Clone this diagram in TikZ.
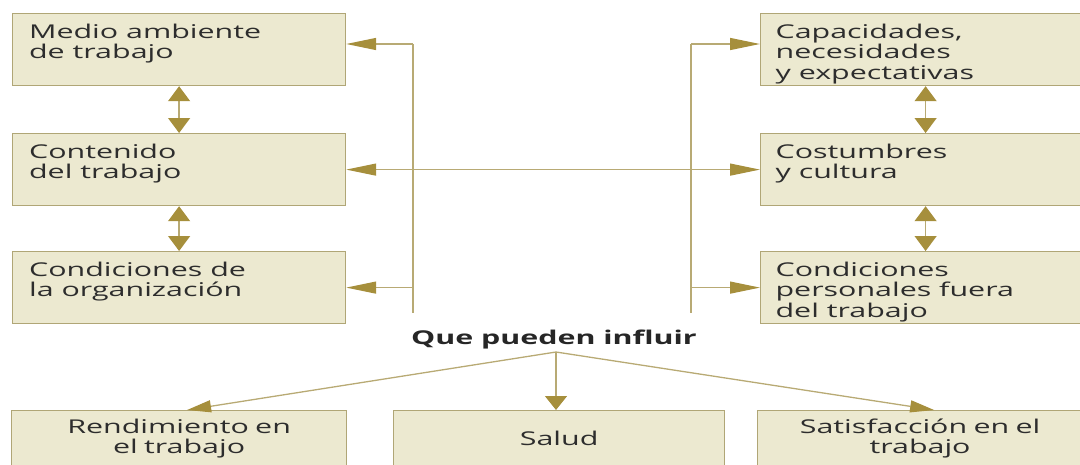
\documentclass[tikz,border=0pt]{standalone}
\usepackage{fontspec}
\setmainfont{Open Sans}[FakeStretch=1.6]
\usepackage{tikz}
\usetikzlibrary{arrows.meta, positioning, calc}
\definecolor{boxfill}{RGB}{236,233,208}
\definecolor{boxline}{RGB}{176,166,118}
\definecolor{arrowgold}{RGB}{166,143,60}
\definecolor{linegold}{RGB}{184,170,116}
\definecolor{textgrey}{RGB}{45,45,45}
\newcommand{\boxtext}[1]{\vbox to 52pt{\hsize=300pt\parindent=0pt\raggedright #1\par\vss}}

\begin{document}
\begin{tikzpicture}[x=1pt, y=-1pt, font=\fontsize{19}{20.5}\selectfont, text=textgrey,
  box/.style={draw=boxline, fill=boxfill, line width=1.2pt, anchor=north west,
    inner xsep=15pt, inner ysep=10pt, minimum height=72pt},
  outbox/.style={draw=boxline, fill=boxfill, line width=1.2pt, anchor=north west,
    inner xsep=15pt, align=center, minimum height=56pt},
  link/.style={draw=linegold, line width=1.3pt},
  hto/.style={link, -{Triangle[length=30pt, width=12pt, color=arrowgold]}},
  hboth/.style={link, {Triangle[length=30pt, width=12pt, color=arrowgold]}-{Triangle[length=30pt, width=12pt, color=arrowgold]}},
  vboth/.style={link, {Triangle[length=15pt, width=22pt, color=arrowgold]}-{Triangle[length=15pt, width=22pt, color=arrowgold]}},
  vto/.style={link, -{Triangle[length=14pt, width=22pt, color=arrowgold]}},
  dto/.style={link, -{Triangle[length=24pt, width=12pt, color=arrowgold]}}]
  \useasboundingbox (0,0) rectangle (1080,464);
  % Left column
  \node[box, minimum width=333pt] (ma) at (12,13) {\boxtext{Medio ambiente\\de trabajo}};
  \node[box, minimum width=333pt] (ct) at (12,133) {\boxtext{Contenido\\del trabajo}};
  \node[box, minimum width=333pt] (co) at (12,251) {\boxtext{Condiciones de\\la organización}};
  % Right column
  \node[box, minimum width=322pt] (cap) at (760,13) {\boxtext{Capacidades,\\necesidades\\y expectativas}};
  \node[box, minimum width=322pt] (cos) at (760,133) {\boxtext{Costumbres\\y cultura}};
  \node[box, minimum width=322pt] (cpf) at (760,251) {\boxtext{Condiciones\\personales fuera\\del trabajo}};
  % Links within each column
  \draw[vboth] (ma.south) -- (ct.north);
  \draw[vboth] (ct.south) -- (co.north);
  \draw[vboth] (cap.south) -- (cos.north);
  \draw[vboth] (cos.south) -- (cpf.north);
  % Left bracket
  \coordinate (lt) at (413,44);
  \coordinate (lb) at (413,313);
  \draw[link] (lt) -- (lb);
  \draw[hto] (lt) -- (lt -| ma.east);
  \draw[hto] (lt |- co.east) -- (co.east);
  % Right bracket
  \coordinate (rt) at (691,44);
  \coordinate (rb) at (691,313);
  \draw[link] (rt) -- (rb);
  \draw[hto] (rt) -- (rt -| cap.west);
  \draw[hto] (rt |- cpf.west) -- (cpf.west);
  % Middle line across
  \draw[hboth] (ct.east) -- (cos.west);
  % Bottom row
  \node[font=\bfseries\fontsize{19}{20.5}\selectfont, text=black!85] (qp) at (554,340) {Que pueden influir};
  \coordinate (qs) at (556,352);
  \node[outbox, text width=305pt] (rend) at (11,410) {Rendimiento en\\el trabajo};
  \node[outbox, text width=301pt] (sal) at (393,410) {Salud};
  \node[outbox, text width=295pt] (sat) at (757,410) {Satisfacción en el\\trabajo};
  \draw[dto] (qs) -- ($(rend.north)+(8,0)$);
  \draw[vto] (qs) -- (qs |- sal.north);
  \draw[dto] (qs) -- ($(sat.north)+(14,0)$);
\end{tikzpicture}
\end{document}
